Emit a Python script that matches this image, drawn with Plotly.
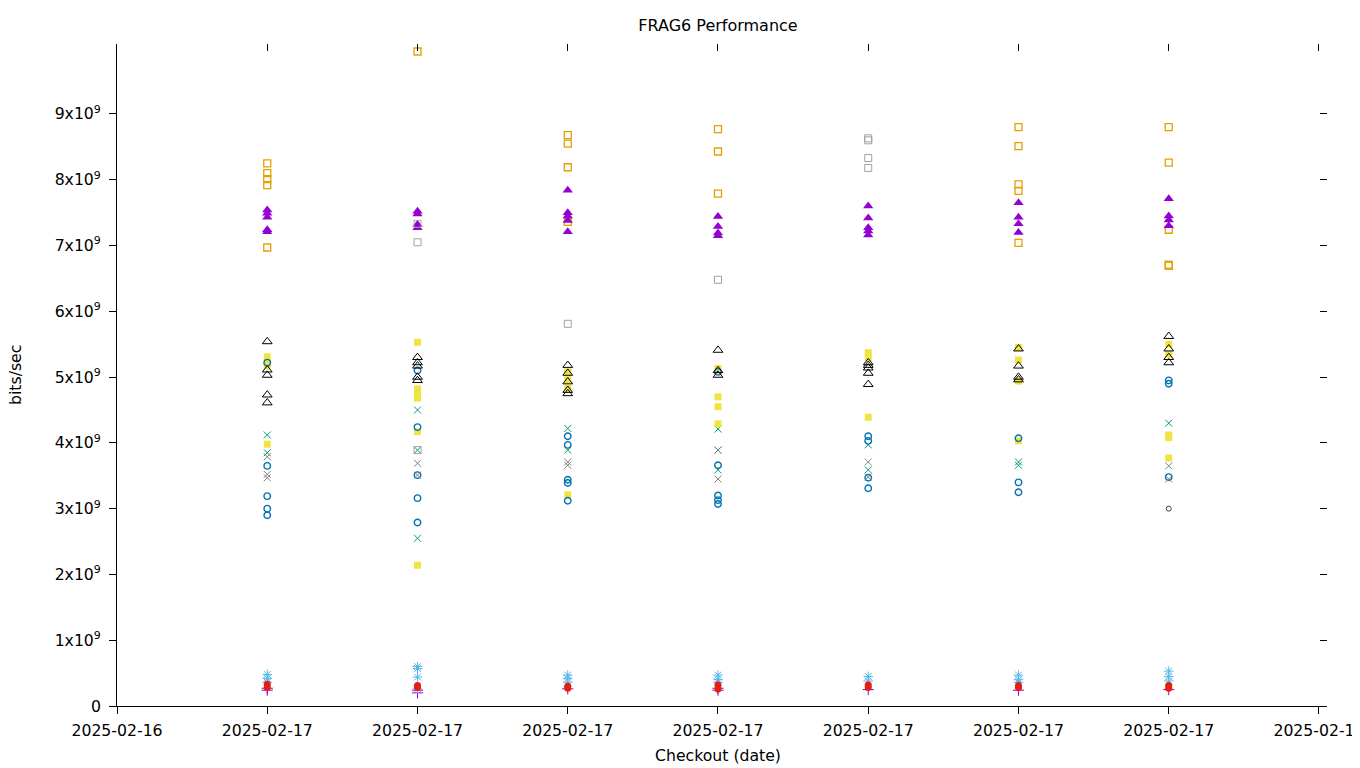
import plotly.graph_objects as go
import pandas as pd

# Checkout times (all on 2025-02-17), one column each
checkouts = ["2025-02-17 00:00", "2025-02-17 01:00", "2025-02-17 02:00", "2025-02-17 03:00",
             "2025-02-17 04:00", "2025-02-17 05:00", "2025-02-17 06:00"]

# values in units of 1e9 bits/sec, one list per checkout column
plus_purple = [[0.24, 0.27], [0.20, 0.24], [0.26], [0.24, 0.27], [0.25], [0.24], [0.25]]
x_green = [[4.12, 3.85], [4.50, 3.89, 2.55], [4.22, 3.89], [4.21, 3.89, 3.59], [3.97, 3.59], [3.71, 3.66], [4.30]]
star_lblue = [[0.48, 0.42, 0.36], [0.60, 0.57, 0.44, 0.26], [0.47, 0.42, 0.36], [0.47, 0.40, 0.36],
              [0.45, 0.38], [0.47, 0.40, 0.36], [0.53, 0.45, 0.38]]
sq_orange = [[8.25, 8.10, 8.01, 7.92, 6.97], [9.95], [8.68, 8.55, 8.19, 7.36], [8.77, 8.43, 7.79],
             [], [8.80, 8.51, 7.93, 7.83, 7.04], [8.80, 8.26, 7.24, 6.71, 6.69]]
sq_yellow = [[5.31, 5.23, 5.17, 3.98], [5.53, 4.82, 4.75, 4.68, 4.17, 2.14], [5.08, 4.96, 4.83, 3.21],
             [5.13, 4.70, 4.55, 4.29], [5.37, 5.30, 4.39], [5.45, 5.26, 4.94, 4.03],
             [5.50, 5.35, 4.12, 4.08, 3.77]]
circ_blue = [[5.22, 3.65, 3.19, 3.00, 2.90], [5.10, 4.24, 3.51, 3.16, 2.79], [4.10, 3.97, 3.44, 3.39, 3.12],
             [5.08, 3.66, 3.20, 3.13, 3.07], [4.10, 4.03, 3.47, 3.31], [4.07, 3.40, 3.25],
             [4.95, 4.90, 3.48]]
circ_red = [[0.33, 0.28], [0.31, 0.28], [0.30, 0.27], [0.32, 0.26], [0.32, 0.28], [0.31, 0.28], [0.31, 0.27]]
tri_black = [[5.54, 5.11, 5.03, 4.73, 4.61], [5.30, 5.22, 5.17, 5.00, 4.95], [5.18, 5.06, 4.93, 4.80, 4.75],
             [5.41, 5.10, 5.03], [5.22, 5.18, 5.14, 5.06, 4.89], [5.43, 5.17, 5.00, 4.96],
             [5.62, 5.43, 5.30, 5.22]]
tri_purple = [[7.54, 7.49, 7.43, 7.24, 7.21], [7.52, 7.48, 7.32, 7.27], [7.84, 7.50, 7.45, 7.38, 7.21],
              [7.44, 7.29, 7.19, 7.15], [7.60, 7.42, 7.27, 7.22, 7.16], [7.65, 7.43, 7.33, 7.20],
              [7.71, 7.45, 7.39, 7.30]]
sq_gray = [[], [7.33, 7.05, 3.89], [5.81], [6.48], [8.63, 8.60, 8.33, 8.18], [], []]
x_gray = [[3.79, 3.52, 3.47], [3.69, 3.51], [3.71, 3.66], [3.89, 3.45], [3.71, 3.48], [], [3.65, 3.45]]
circ_black = [[], [], [], [], [], [], [3.00]]

y_ticks = [0, 1, 2, 3, 4, 5, 6, 7, 8, 9]
y_ticktext = ["0"] + [f"{v}x10<sup>9</sup>" for v in y_ticks[1:]]

series = [
    ("plus", plus_purple, "cross-thin-open", "#9400d3", 8, 1),
    ("x", x_green, "x-thin-open", "#009e73", 7, 1),
    ("star", star_lblue, "asterisk-open", "#56b4e9", 8, 1),
    ("sq_o", sq_orange, "square-open", "#e69f00", 7, 1.3),
    ("sq_y", sq_yellow, "square", "#f0e442", 7, 0),
    ("c_b", circ_blue, "circle-open", "#0072b2", 6.5, 1.4),
    ("c_r", circ_red, "circle", "#e51e10", 7, 0),
    ("t_k", tri_black, "triangle-up-open", "#000000", 8.5, 1),
    ("t_p", tri_purple, "triangle-up", "#9400d3", 9, 0),
    ("sq_g", sq_gray, "square-open", "#a0a0a0", 7, 1),
    ("x_g", x_gray, "x-thin-open", "#808080", 7, 1),
    ("c_k", circ_black, "circle-open", "#404040", 5, 1),
]

fig = go.Figure()
for name, cols, sym, col, size, lw in series:
    xs, ys = [], []
    for t, vals in zip(checkouts, cols):
        for v in vals:
            xs.append(pd.Timestamp(t))
            ys.append(v * 1e9)
    fig.add_trace(go.Scatter(
        x=xs, y=ys, mode="markers", name=name, showlegend=False,
        marker=dict(symbol=sym, color=col, size=size,
                    line=dict(color=col, width=lw if lw else 0)),
    ))

font = "DejaVu Sans, sans-serif"
x0 = pd.Timestamp("2025-02-16 23:00")
x1 = pd.Timestamp("2025-02-17 07:03:12")

# page has an 8px body margin; figure is sized to fit the window
W, H = 1352, 760
L, R, T, B = 109, 33, 36, 62
PW = W - L - R

fig.update_layout(
    width=W, height=H,
    paper_bgcolor="white", plot_bgcolor="white",
    margin=dict(l=L, r=R, t=T, b=B, autoexpand=False),
    font=dict(family=font, size=15.7, color="black"),
    title=dict(text="FRAG6 Performance", x=710 / W, xanchor="center",
               y=1 - 17 / H, yanchor="middle", font=dict(size=16)),
    xaxis=dict(type="date", range=[x0, x1], tickformat="%Y-%m-%d", dtick=3600000, tick0=x0,
               showgrid=False, zeroline=False, showline=True, linecolor="black", linewidth=1,
               ticks="outside", ticklen=7, tickcolor="black", automargin=False,
               ticklabeloverflow="allow", ticklabelstandoff=3),
    xaxis2=dict(type="date", range=[x0, x1], dtick=3600000, tick0=x0, overlaying="x", side="top",
                showticklabels=False, showgrid=False, zeroline=False, showline=False,
                ticks="inside", ticklen=7, tickcolor="black", automargin=False),
    yaxis=dict(range=[0, 1.0064e10], tickvals=[v * 1e9 for v in y_ticks], ticktext=y_ticktext,
               showgrid=False, zeroline=False, showline=True, linecolor="black", linewidth=1,
               ticks="outside", ticklen=7, tickcolor="black", automargin=False,
               ticklabelstandoff=5),
    yaxis2=dict(range=[0, 1.0064e10], tickvals=[v * 1e9 for v in y_ticks], overlaying="y", side="right",
                showticklabels=False, showgrid=False, zeroline=False, showline=False,
                ticks="inside", ticklen=7, tickcolor="black", automargin=False),
    annotations=[
        dict(text="bits/sec", xref="paper", yref="paper", x=0, y=0.5, xshift=-102,
             textangle=-90, showarrow=False, xanchor="center", yanchor="middle",
             font=dict(size=15.7)),
        dict(text="Checkout (date)", xref="paper", yref="paper", x=(718 - 117) / PW, y=0,
             yshift=-49, showarrow=False, xanchor="center", yanchor="middle",
             font=dict(size=15.7)),
    ],
)
# invisible trace to activate the mirrored axes
fig.add_trace(go.Scatter(x=[x0], y=[0], xaxis="x2", yaxis="y2", mode="markers",
                         marker=dict(opacity=0), showlegend=False, hoverinfo="skip"))

fig.write_html("out.html")
